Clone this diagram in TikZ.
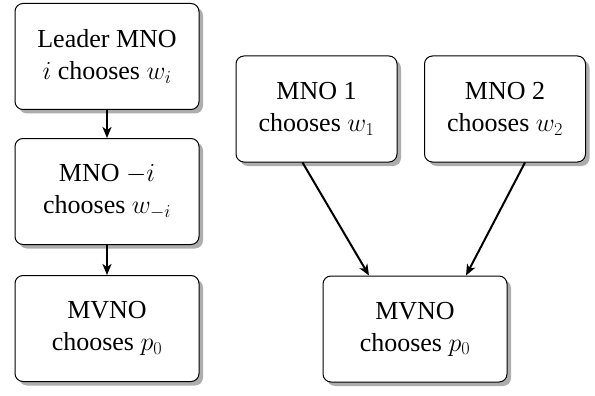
\RequirePackage{fix-cm}
\documentclass[tikz,border=0pt]{standalone}
\usepackage{fontspec}
\setmainfont{Liberation Serif}
\usetikzlibrary{shadows,arrows.meta}
\begin{document}
\begin{tikzpicture}[x=1pt,y=-1pt,
  stage/.style={draw=black, line width=1pt, rounded corners=8pt, fill=white,
    drop shadow={shadow xshift=4pt, shadow yshift=-4pt, fill=black!32, opacity=1},
    minimum height=106pt, inner sep=0pt, align=center,
    font=\fontsize{26}{32}\selectfont},
  wide/.style={minimum width=184pt},
  narrow/.style={minimum width=161pt},
  link/.style={line width=2pt, -{Stealth[length=11pt,width=9pt,inset=3pt]}}
]
\useasboundingbox (0,0) rectangle (595,396);
\node[stage,wide] (lead) at (107,56.5) {Leader MNO\\ $i$ chooses $w_i$};
\node[stage,wide] (foll) at (107,191.5) {MNO $-i$\\ chooses $w_{-i}$};
\node[stage,wide] (mvnoL) at (107,328.5) {MVNO\\ chooses $p_0$};
\node[stage,narrow] (mno1) at (316.5,109) {MNO 1\\ chooses $w_1$};
\node[stage,narrow] (mno2) at (505,109) {MNO 2\\ chooses $w_2$};
\node[stage,wide] (mvnoR) at (415,329) {MVNO\\ chooses $p_0$};
\draw[link] (lead) -- (foll);
\draw[link] (foll) -- (mvnoL);
\draw[link] ([xshift=-14pt]mno1.south) -- ([xshift=-46pt]mvnoR.north);
\draw[link] ([xshift=20pt]mno2.south) -- ([xshift=51pt]mvnoR.north);
\end{tikzpicture}
\end{document}
